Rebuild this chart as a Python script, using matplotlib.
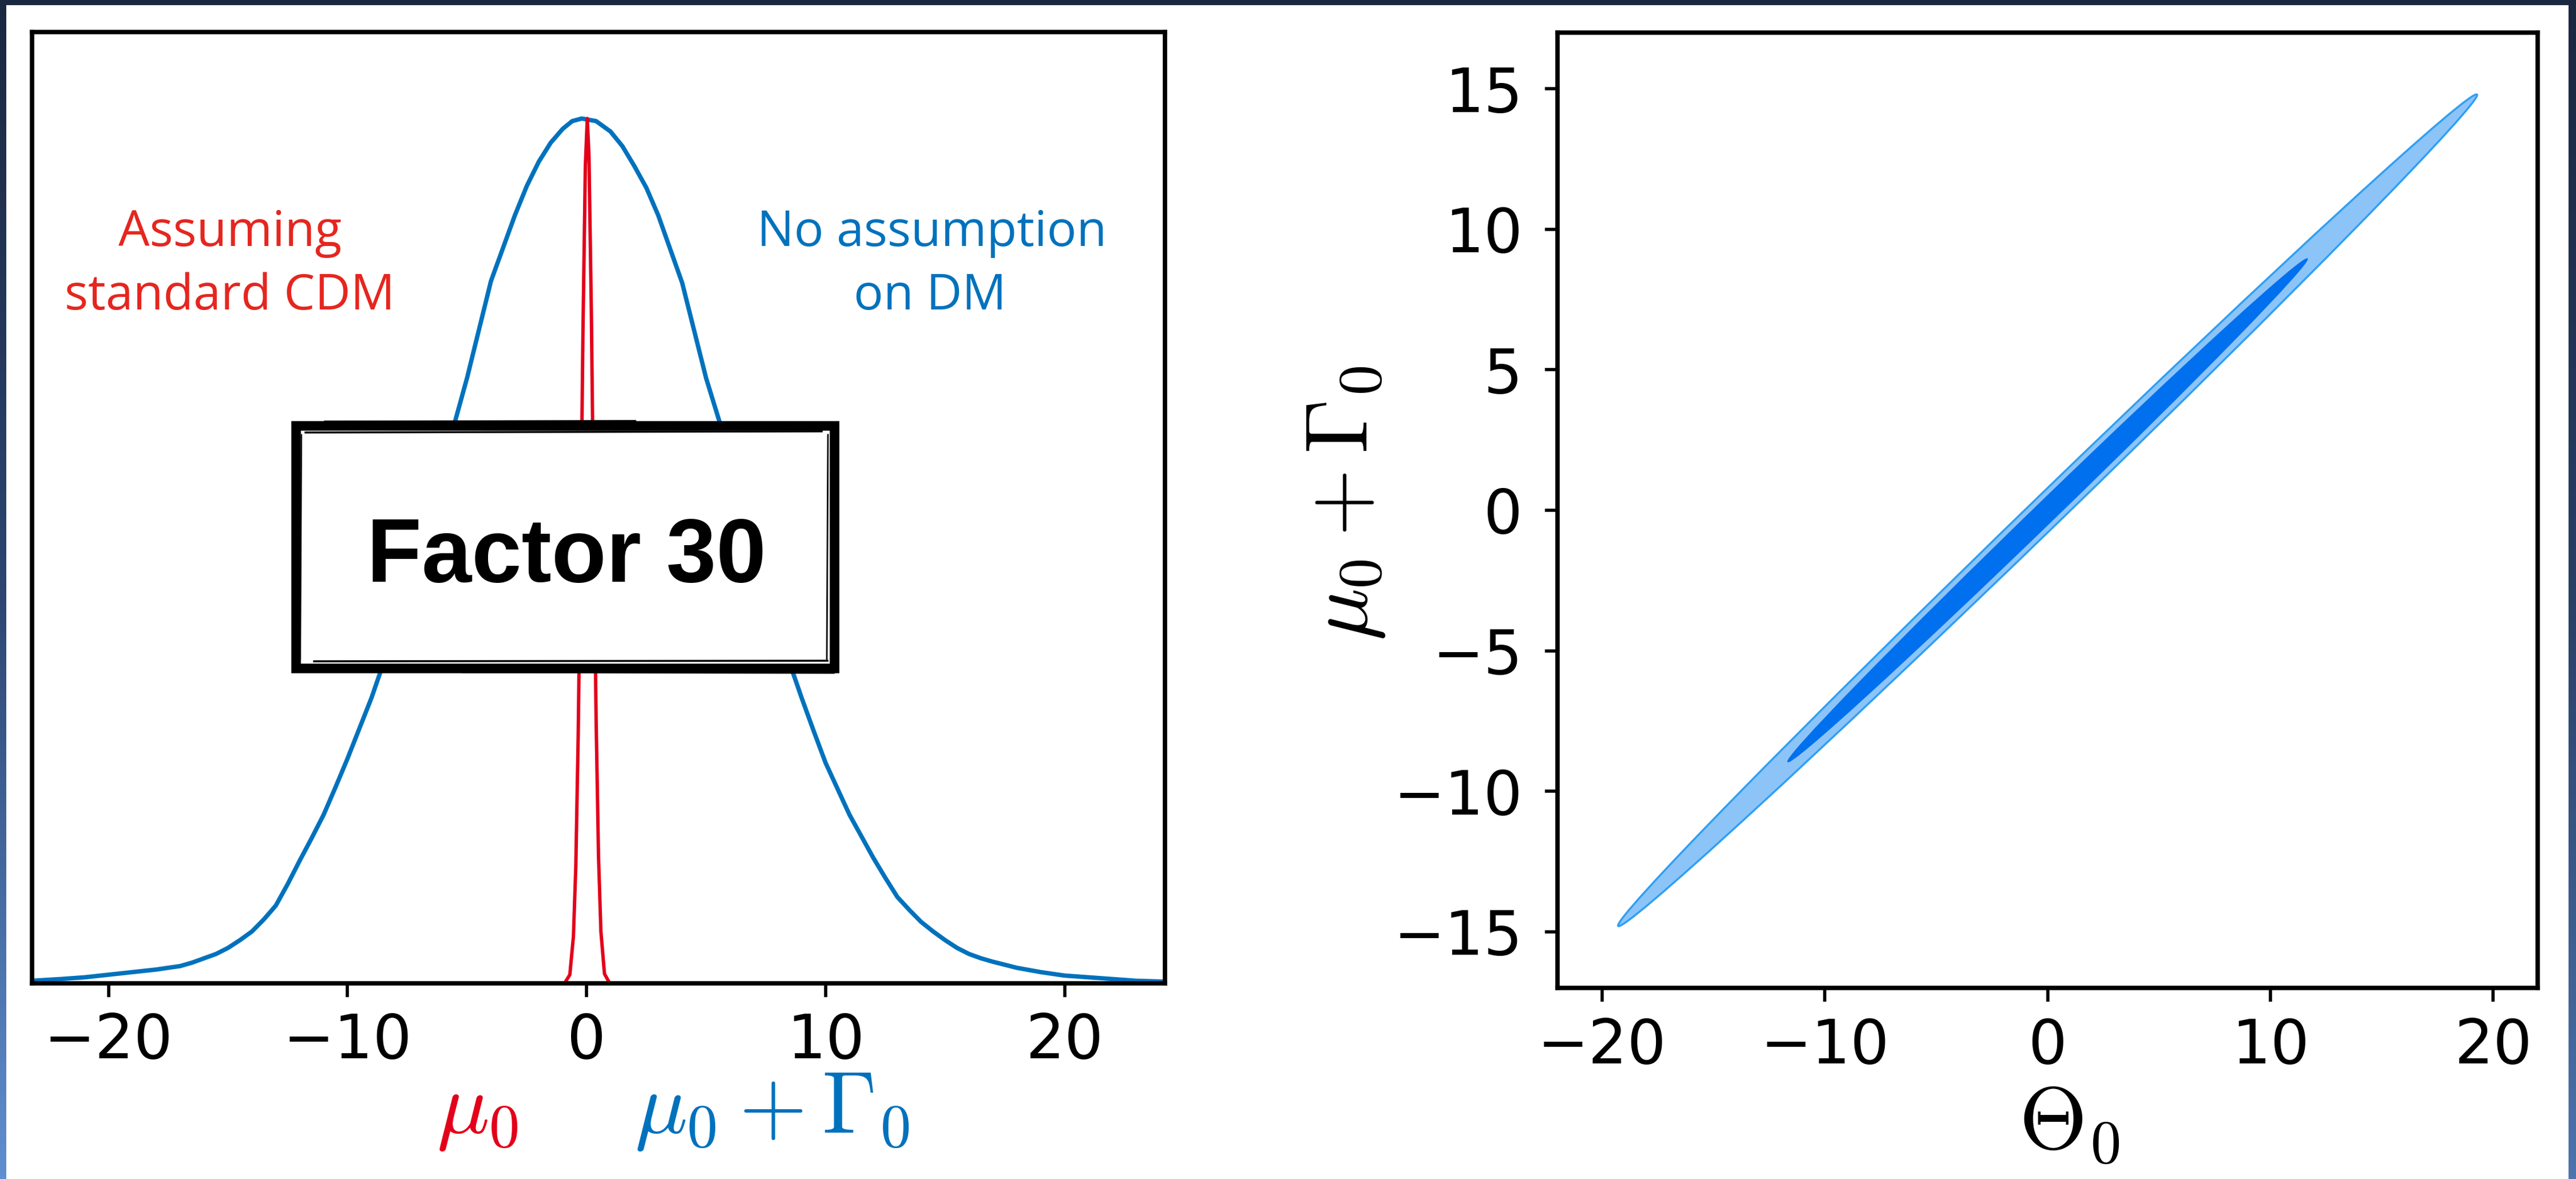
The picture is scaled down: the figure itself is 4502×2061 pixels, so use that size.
import numpy as np
import matplotlib
matplotlib.use('Agg')
import matplotlib.pyplot as plt
from matplotlib.patches import Rectangle, Ellipse
from matplotlib.colors import LinearSegmentedColormap

# ---------------- data ----------------
blue_x = [-23.2, -22, -21, -20, -19, -18, -17, -16.5, -16, -15.5, -15, -14.5,
          -14, -13.5, -13, -12.5, -12, -11.5, -11, -10.5, -10, -9.5, -9, -8.5,
          -8, -7, -6, -5, -4, -3, -2.5, -2, -1.5, -1, -0.6, -0.2,
          0.4, 1, 1.5, 2, 2.5, 3, 4, 5, 6, 7, 8, 8.5, 9, 9.5, 10, 10.5, 11,
          11.5, 12, 12.5, 13, 13.5, 14, 14.5, 15, 15.5, 16, 16.5, 17, 18,
          19, 20, 21, 22, 23, 24.2]
blue_y = [0.003, 0.005, 0.007, 0.010, 0.013, 0.016, 0.020, 0.024, 0.029, 0.034,
          0.041, 0.050, 0.060, 0.074, 0.090, 0.115, 0.142, 0.168, 0.195, 0.227,
          0.260, 0.295, 0.330, 0.370, 0.410, 0.500, 0.600, 0.700, 0.812, 0.888,
          0.922, 0.950, 0.972, 0.988, 0.997, 1.000,
          0.997, 0.985, 0.968, 0.945, 0.920, 0.888, 0.810, 0.700, 0.610, 0.505,
          0.410, 0.370, 0.330, 0.292, 0.255, 0.225, 0.195, 0.170, 0.145, 0.122,
          0.100, 0.085, 0.071, 0.060, 0.050, 0.041, 0.034, 0.029, 0.025, 0.018,
          0.013, 0.009, 0.007, 0.005, 0.003, 0.002]

red_x = [-0.9, -0.7, -0.55, -0.45, -0.35, -0.25, -0.15, -0.05, 0.03,
         0.1, 0.2, 0.3, 0.4, 0.5, 0.6, 0.75, 0.95]
red_y = [0.001, 0.010, 0.054, 0.135, 0.286, 0.506, 0.755, 0.946, 1.000,
         0.958, 0.778, 0.531, 0.305, 0.147, 0.060, 0.011, 0.001]

left_xticks = [-20, -10, 0, 10, 20]
right_xticks = [-20, -10, 0, 10, 20]
right_yticks = [-15, -10, -5, 0, 5, 10, 15]

# 2D contour regions (ellipses in data space): centre, semi-axes, angle
contour_center = (0.0, 0.0)
contour_angle_deg = 37.5
outer_semi_axes = (24.3, 0.63)   # 95% region
inner_semi_axes = (14.7, 0.415)  # 68% region

left_text_red = ["Assuming", "standard CDM"]
left_text_blue = ["No assumption", "on DM"]
box_text = "Factor 30"

# ---------------- style ----------------
W, H = 4502, 2061
DPI = 100
plt.rcParams['mathtext.fontset'] = 'cm'
plt.rcParams['axes.unicode_minus'] = True

NAVY = '#1a2740'
BLUE = '#0072bd'
RED = '#e3001b'
RED_TXT = '#e5261f'

fig = plt.figure(figsize=(W / DPI, H / DPI), dpi=DPI, facecolor=NAVY)

# background (slide frame)
bg = fig.add_axes([0, 0, 1, 1], zorder=0)
grad = np.linspace(0, 1, 256).reshape(-1, 1)
cmap_l = LinearSegmentedColormap.from_list('l', [NAVY, '#2c4571', '#5f8fd0'])
cmap_r = LinearSegmentedColormap.from_list('r', [NAVY, '#283f66', '#4d74ad'])
bg.imshow(grad, cmap=cmap_l, extent=[0, 11, H, 0], aspect='auto')
bg.imshow(grad, cmap=cmap_r, extent=[4489, W, H, 0], aspect='auto')
bg.add_patch(Rectangle((11, 9), 4489 - 11, H - 9, facecolor='white', edgecolor='none'))
bg.set_xlim(0, W)
bg.set_ylim(H, 0)
bg.axis('off')

SPINE_LW = 5.5

def style_axes(ax):
    for s in ax.spines.values():
        s.set_linewidth(SPINE_LW)
        s.set_color('black')
    ax.set_facecolor('white')

# ---------------- left panel ----------------
ax1 = fig.add_axes([56 / W, 1 - 1719 / H, (2036 - 56) / W, (1719 - 56) / H], zorder=1)
style_axes(ax1)
ax1.plot(blue_x, blue_y, color=BLUE, lw=5.5, solid_capstyle='round', solid_joinstyle='round')
ax1.plot(red_x, red_y, color=RED, lw=4.3, solid_capstyle='round', solid_joinstyle='round')
ax1.set_xlim(-23.2, 24.2)
ax1.set_ylim(0, 1.1)
ax1.set_yticks([])
ax1.set_xticks(left_xticks)
ax1.tick_params(axis='x', length=17, width=4, pad=19, labelsize=77)

# ---------------- right panel ----------------
ax2 = fig.add_axes([2722 / W, 1 - 1727 / H, (4435 - 2722) / W, (1727 - 57) / H], zorder=1)
style_axes(ax2)
ax2.add_patch(Ellipse(contour_center, 2 * outer_semi_axes[0], 2 * outer_semi_axes[1],
                      angle=contour_angle_deg, facecolor='#8cc4f8',
                      edgecolor='#2f9ff5', lw=2.5))
ax2.add_patch(Ellipse(contour_center, 2 * inner_semi_axes[0], 2 * inner_semi_axes[1],
                      angle=contour_angle_deg, facecolor='#0070ee',
                      edgecolor='#0070ee', lw=1.0))
ax2.set_xlim(-22, 22)
ax2.set_ylim(-17, 17)
ax2.set_xticks(right_xticks)
ax2.set_yticks(right_yticks)
ax2.tick_params(axis='x', length=17, width=4, pad=20, labelsize=77)
ax2.tick_params(axis='y', length=16, width=4, pad=28, labelsize=77)

# ---------------- overlay (annotations in pixel coords) ----------------
ov = fig.add_axes([0, 0, 1, 1], zorder=5)
ov.set_xlim(0, W)
ov.set_ylim(H, 0)
ov.axis('off')

TXT_FONT = ['Open Sans', 'DejaVu Sans']
TXT_SIZE = 62
ov.text(402, 430, left_text_red[0], color=RED_TXT, fontsize=TXT_SIZE, family=TXT_FONT,
        ha='center', va='baseline')
ov.text(402, 541, left_text_red[1], color=RED_TXT, fontsize=TXT_SIZE, family=TXT_FONT,
        ha='center', va='baseline')
ov.text(1629, 430, left_text_blue[0], color=BLUE, fontsize=TXT_SIZE, family=TXT_FONT,
        ha='center', va='baseline')
ov.text(1625, 541, left_text_blue[1], color=BLUE, fontsize=TXT_SIZE, family=TXT_FONT,
        ha='center', va='baseline')

# sketchy "Factor 30" box
bx0, bx1, by0, by1 = 509, 1466, 735, 1177
ov.add_patch(Rectangle((bx0 + 8, by0 + 9), bx1 - bx0 - 16, by1 - by0 - 18,
                       facecolor='white', edgecolor='black', lw=12, joinstyle='miter'))
ov.plot([bx0 + 25, bx1 - 30], [by0 + 21, by0 + 19], color='black', lw=2.5)
ov.plot([bx0 + 60, bx0 + 600], [by0 + 3, by0 + 2], color='black', lw=4)
ov.plot([bx0 + 40, bx1 - 20], [by1 - 21, by1 - 22], color='black', lw=2.5)
ov.plot([bx0 + 300, bx1 - 10], [by1 - 3, by1 - 2], color='black', lw=4)
ov.plot([bx0 + 18, bx0 + 16], [by0 + 25, by1 - 25], color='black', lw=1.5)
ov.plot([bx1 - 19, bx1 - 21], [by0 + 25, by1 - 25], color='black', lw=2.0)
ov.text(990, 1017, box_text, color='black', fontsize=113, fontweight='bold',
        family=['Liberation Sans', 'DejaVu Sans'], ha='center', va='baseline')

# axis labels
ov.text(763, 1980, r'$\mu_0$', color=RED, fontsize=110, ha='left', va='baseline')
ov.text(1109, 1980, r'$\mu_0 + \Gamma_0$', color=BLUE, fontsize=110, ha='left', va='baseline')
ov.text(2350, 880, r'$\mu_0 + \Gamma_0$', color='black', fontsize=110, rotation=90,
        ha='center', va='center')
ov.text(3528, 2008, r'$\Theta_0$', color='black', fontsize=110, ha='left', va='baseline')

fig.savefig('out.png', dpi=DPI, facecolor=NAVY)
